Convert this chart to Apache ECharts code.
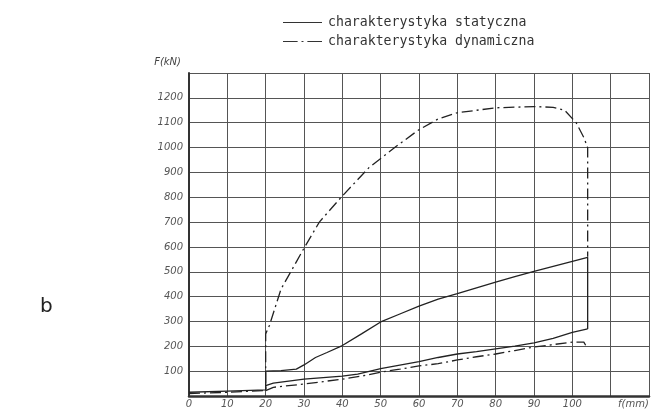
<!DOCTYPE html>
<html>
<head>
<meta charset="utf-8">
<script src="https://cdn.jsdelivr.net/npm/echarts@6/dist/echarts.min.js"></script>
<style>html,body{margin:0;padding:0;background:#fff}#c{width:652px;height:409px}</style>
</head>
<body>
<div id="c"></div>
<script>
// Series names (legend)
const seriesNames = ['charakterystyka statyczna', 'charakterystyka dynamiczna'];
// Axis ticks
const xTicks = [0, 10, 20, 30, 40, 50, 60, 70, 80, 90, 100];
const yTicks = [100, 200, 300, 400, 500, 600, 700, 800, 900, 1000, 1100, 1200];

// Static characteristic – loading branch (then drop at end)
const staticUpX = [0, 10, 20, 20, 24, 28, 30, 33, 36, 40, 45, 50, 55, 60, 65, 70, 75, 80, 85, 90, 95, 100, 104, 104];
const staticUpY = [15, 20, 25, 100, 102, 108, 125, 155, 175, 203, 250, 298, 330, 362, 390, 412, 435, 458, 480, 502, 522, 542, 558, 270];
// Static characteristic – lower branch
const staticLoX = [20, 20, 22, 25, 30, 35, 40, 44, 50, 55, 60, 65, 70, 75, 80, 85, 90, 95, 100, 104];
const staticLoY = [25, 42, 52, 58, 68, 74, 80, 88, 110, 124, 138, 155, 169, 179, 190, 201, 214, 232, 256, 270];

// Dynamic characteristic – upper branch
const dynUpX = [0, 10, 20, 20, 21, 24, 28, 30, 34, 40, 47, 54, 60, 65, 70, 80, 90, 95, 98, 101, 103, 104, 104];
const dynUpY = [10, 15, 22, 250, 285, 430, 540, 595, 700, 805, 920, 1004, 1072, 1115, 1140, 1160, 1165, 1162, 1150, 1100, 1040, 1000, 560];
// Dynamic characteristic – lower branch
const dynLoX = [20, 22, 25, 30, 35, 40, 45, 50, 55, 60, 65, 70, 75, 80, 85, 90, 95, 100, 103, 104];
const dynLoY = [22, 35, 40, 48, 58, 68, 80, 96, 108, 121, 130, 145, 158, 169, 183, 197, 207, 217, 217, 190];

const zip = (xs, ys) => xs.map((x, i) => [x, ys[i]]);

const ink = '#222';
const gridCol = '#555';
const dashDot = [11, 4, 2, 4];

const chart = echarts.init(document.getElementById('c'), null, {renderer: 'canvas'});
const solidStyle = {color: ink, width: 1.3, type: 'solid'};
const dashStyle = {color: ink, width: 1.3, type: dashDot};

const iconSolid = 'path://M0,0H40V1H0Z';
const iconDashDot = 'path://M0,0H15V1H0Z M19,0H21V1H19Z M25,0H40V1H25Z';

chart.setOption({
  animation: false,
  backgroundColor: '#fff',
  grid: {left: 189, top: 73, right: -3, bottom: 12, containLabel: false},
  legend: {
    orient: 'vertical',
    left: 278, top: 11,
    itemWidth: 39, itemHeight: 1.4, itemGap: 6,
    data: [
      {name: seriesNames[0], icon: iconSolid},
      {name: seriesNames[1], icon: iconDashDot}
    ],
    itemStyle: {color: '#333', borderWidth: 0},
    lineStyle: {width: 0},
    textStyle: {fontFamily: 'DejaVu Sans Mono', fontSize: 13.2, color: '#333', padding: [0, 0, 0, 1]}
  },
  xAxis: {
    type: 'value', min: 0, max: 120, interval: 10,
    name: 'f(mm)',
    nameLocation: 'end',
    nameGap: -31,
    nameTextStyle: {fontFamily: 'DejaVu Sans', fontStyle: 'italic', fontSize: 10, color: '#555', verticalAlign: 'top', align: 'left', padding: [3, 0, 0, 0]},
    axisLine: {show: true, lineStyle: {color: '#333', width: 2.5}},
    axisTick: {show: false},
    splitLine: {show: true, lineStyle: {color: gridCol, width: 1}},
    axisLabel: {
      margin: 3,
      fontFamily: 'DejaVu Sans', fontStyle: 'italic', fontSize: 10, color: '#555',
      formatter: v => xTicks.indexOf(v) >= 0 ? String(v) : ''
    }
  },
  yAxis: {
    type: 'value', min: 0, max: 1300, interval: 100,
    name: 'F(kN)',
    nameLocation: 'end',
    nameGap: 6,
    nameTextStyle: {fontFamily: 'DejaVu Sans', fontStyle: 'italic', fontSize: 10, color: '#444', align: 'right', padding: [0, 8, 0, 0]},
    axisLine: {show: true, lineStyle: {color: '#333', width: 2}},
    axisTick: {show: false},
    splitLine: {show: true, lineStyle: {color: gridCol, width: 1}},
    axisLabel: {
      margin: 6,
      fontFamily: 'DejaVu Sans', fontStyle: 'italic', fontSize: 10, color: '#555',
      formatter: v => yTicks.indexOf(v) >= 0 ? String(v) : ''
    }
  },
  graphic: [{
    type: 'text', left: 40, top: 297,
    style: {text: 'b', font: '20px "DejaVu Sans"', fill: '#222'}
  }],
  series: [
    {name: seriesNames[0], type: 'line', data: zip(staticUpX, staticUpY), symbol: 'none', lineStyle: solidStyle, itemStyle: {color: ink}},
    {name: seriesNames[0], type: 'line', data: zip(staticLoX, staticLoY), symbol: 'none', lineStyle: solidStyle, itemStyle: {color: ink}},
    {name: seriesNames[1], type: 'line', data: zip(dynUpX, dynUpY), symbol: 'none', lineStyle: dashStyle, itemStyle: {color: ink}},
    {name: seriesNames[1], type: 'line', data: zip(dynLoX, dynLoY), symbol: 'none', lineStyle: dashStyle, itemStyle: {color: ink}}
  ]
});
</script>
</body>
</html>
